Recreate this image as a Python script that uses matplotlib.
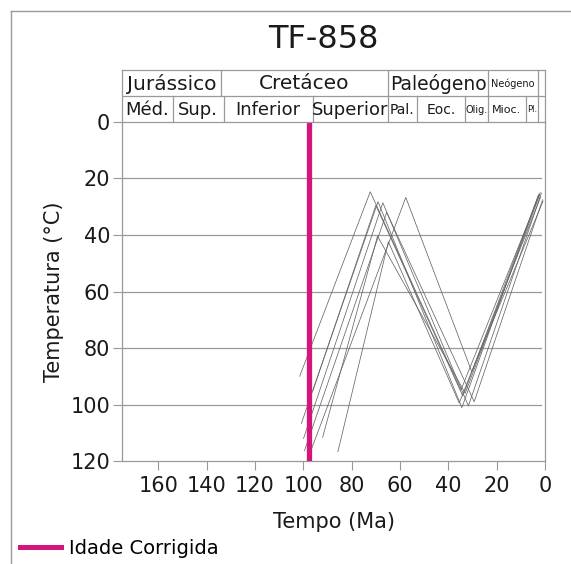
import numpy as np
import matplotlib.pyplot as plt
from matplotlib.lines import Line2D

plt.rcParams['font.family'] = ['DejaVu Sans']

# time-temperature paths (age in Ma, temperature in C)
path_ages = [
    [101.5, 72.3, 34.8, 2.0],
    [100.8, 69.1, 34.4, 2.8],
    [99.9, 67.1, 31.7, 1.5],
    [99.5, 65.5, 29.3, 1.0],
    [92.0, 69.3, 33.0, 2.2],
    [85.7, 64.8, 35.5, 1.8],
    [96.5, 57.6, 30.3, 0.8],
    [96.0, 70.0, 34.0, 2.5],
]
path_temps = [
    [90.0, 24.7, 94.9, 25.0],
    [106.7, 28.2, 101.1, 26.0],
    [112.0, 28.6, 100.5, 25.2],
    [116.3, 32.0, 99.0, 27.5],
    [111.6, 40.4, 96.0, 25.8],
    [116.7, 42.4, 99.5, 26.5],
    [115.5, 26.7, 88.4, 28.0],
    [95.0, 29.5, 97.0, 25.5],
]
corrected_age = 97.5

x_ticks = [160, 140, 120, 100, 80, 60, 40, 20, 0]
y_ticks = [0, 20, 40, 60, 80, 100, 120]

# geologic time scale (Ma)
periods = ["Jurássico", "Cretáceo", "Paleógeno", "Neógeno", ""]
period_bounds = [175, 134, 65, 23.5, 3, 0]
period_sizes = [14.5, 14.5, 13.5, 7, 7]
epochs = ["Méd.", "Sup.", "Inferior", "Superior", "Pal.", "Eoc.", "Olig.", "Mioc.", "Pl.", ""]
epoch_bounds = [175, 154, 133, 96, 65, 53, 33, 23.5, 8, 3, 0]
epoch_sizes = [13, 13, 13, 13, 10, 10, 7, 8, 6, 6]

magenta = '#d4157c'
gray = '#999999'
txt = '#1a1a1a'

fig = plt.figure(figsize=(5.71, 5.64), dpi=100)
ax = fig.add_axes([0.2137, 0.1826, 0.7408, 0.6011])

for a, t in zip(path_ages, path_temps):
    ax.plot(a, t, color='#666666', lw=0.55)

for yv in y_ticks[1:-1]:
    ax.axhline(yv, xmax=0.99, color=gray, lw=0.9, zorder=0)

ax.axvline(corrected_age, color=magenta, lw=3.8, zorder=3)

ax.set_xlim(175, 0)
ax.set_ylim(120, 0)
ax.set_xticks(x_ticks)
ax.set_yticks(y_ticks)
ax.tick_params(axis='both', colors=gray, labelcolor=txt, labelsize=15, length=6.5, width=0.8)
ax.tick_params(axis='x', pad=4)
ax.tick_params(axis='y', pad=2)
for s in ax.spines.values():
    s.set_color(gray)
    s.set_linewidth(0.9)
ax.spines['top'].set_visible(False)

ax.set_xlabel('Tempo (Ma)', fontsize=15, labelpad=12, color=txt)
ax.set_ylabel('Temperatura (°C)', fontsize=15, labelpad=5, color=txt)

# time scale band above the plot
axt = fig.add_axes([0.2137, 0.7837, 0.7408, 0.0922])
axt.set_xlim(175, 0)
axt.set_ylim(0, 2)
axt.set_xticks([])
axt.set_yticks([])
for s in axt.spines.values():
    s.set_color(gray)
    s.set_linewidth(0.9)
axt.axhline(1, color=gray, lw=0.9)
for b in period_bounds[1:-1]:
    axt.plot([b, b], [1, 2], color=gray, lw=0.9)
for b in epoch_bounds[1:-1]:
    axt.plot([b, b], [0, 1], color=gray, lw=0.9)
for i, name in enumerate(periods):
    xc = (period_bounds[i] + period_bounds[i + 1]) / 2
    axt.text(xc, 1.47, name, ha='center', va='center', fontsize=period_sizes[i], color=txt)
for i, name in enumerate(epochs):
    xc = (epoch_bounds[i] + epoch_bounds[i + 1]) / 2
    axt.text(xc, 0.47, name, ha='center', va='center', fontsize=epoch_sizes[i], color=txt)

fig.text(0.566, 1 - 40 / 564, 'TF-858', ha='center', va='center', fontsize=23, color=txt)

# outer frame (left and top edges)
fig.add_artist(Line2D([11 / 571, 11 / 571], [0, 1 - 11 / 564], color=gray, lw=1.0))
fig.add_artist(Line2D([11 / 571, 1], [1 - 11 / 564, 1 - 11 / 564], color=gray, lw=1.0))

handle = Line2D([], [], color=magenta, lw=3.6)
fig.legend([handle], ['Idade Corrigida'], loc='center left', bbox_to_anchor=(20 / 571, 1 - 548 / 564),
           frameon=False, fontsize=14, handlelength=2.1, handletextpad=0.4, borderpad=0, borderaxespad=0)

fig.savefig('out.png', dpi=100)
